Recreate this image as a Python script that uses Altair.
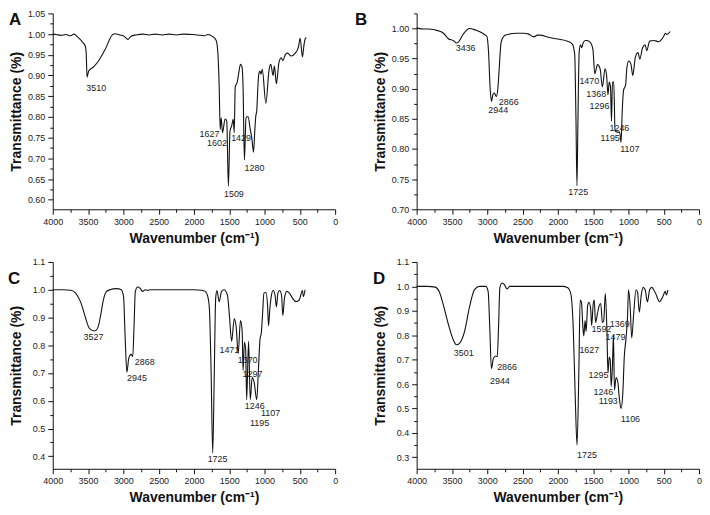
import altair as alt
import pandas as pd

FONT = "Liberation Sans"

# ---------------- Panel A ----------------
A_wn = [4000, 3950, 3884, 3815, 3745, 3699, 3653, 3584, 3537, 3525, 3514, 3491, 3422, 3352, 3300, 3260,
        3200, 3168, 3121, 3051, 2982, 2936, 2890, 2820, 2728, 2635, 2550, 2450, 2350, 2250, 2150, 2035,
        1950, 1850, 1803, 1734, 1688, 1664, 1642, 1628, 1614, 1595, 1559, 1535, 1512, 1489, 1466, 1443,
        1429, 1415, 1387, 1364, 1341, 1317, 1304, 1285, 1262, 1234, 1202, 1179, 1156, 1140, 1125, 1110,
        1095, 1080, 1065, 1050, 1032, 981, 935, 911, 879, 860, 832, 796, 763, 741, 703, 671, 624, 564,
        518, 495, 463, 440, 420, 407]
A_tr = [1.000, 0.999, 0.997, 0.999, 0.996, 1.000, 0.994, 0.982, 0.970, 0.950, 0.896, 0.911, 0.921, 0.935, 0.950, 0.962,
        0.985, 0.996, 1.001, 0.998, 0.994, 0.987, 0.995, 0.998, 1.000, 0.998, 1.000, 0.998, 1.000, 0.998, 1.000, 0.999,
        0.998, 0.996, 0.999, 0.994, 0.986, 0.962, 0.872, 0.770, 0.798, 0.762, 0.795, 0.790, 0.633, 0.766, 0.778, 0.794,
        0.762, 0.872, 0.884, 0.907, 0.927, 0.919, 0.872, 0.696, 0.798, 0.801, 0.770, 0.747, 0.715, 0.760, 0.800, 0.815,
        0.870, 0.905, 0.911, 0.903, 0.915, 0.833, 0.915, 0.927, 0.900, 0.923, 0.880, 0.931, 0.943, 0.936, 0.951, 0.954, 0.947, 0.954,
        0.970, 0.990, 0.945, 0.975, 0.990, 0.991]
A_lbl = ["3510", "1627", "1602", "1429", "1280", "1509"]
A_lbl_wn = [3385, 1780, 1674, 1332, 1142, 1434]
A_lbl_tr = [0.871, 0.758, 0.737, 0.750, 0.676, 0.613]

# ---------------- Panel B ----------------
B_wn = [4000, 3900, 3828, 3689, 3620, 3551, 3481, 3436, 3412, 3343, 3251, 3158, 3065, 3006, 2982, 2960,
        2941, 2920, 2900, 2871, 2850, 2835, 2802, 2742, 2580, 2480, 2419, 2340, 2290, 2257, 2118, 1979,
        1864, 1795, 1761, 1743, 1729, 1715, 1697, 1678, 1660, 1642, 1610, 1587, 1540, 1503, 1476, 1438,
        1401, 1369, 1332, 1309, 1290, 1272, 1254, 1240, 1226, 1208, 1189, 1161, 1124, 1105, 1087, 1068,
        1040, 1022, 995, 963, 939, 902, 865, 838, 800, 763, 741, 699, 638, 569, 500, 477, 454, 408]
B_tr = [1.001, 0.999, 0.999, 0.996, 0.992, 0.983, 0.980, 0.976, 0.977, 0.990, 1.000, 0.997, 0.992, 0.987, 0.962, 0.903,
        0.879, 0.890, 0.893, 0.887, 0.900, 0.925, 0.978, 0.989, 0.992, 0.992, 0.991, 0.986, 0.989, 0.989, 0.985, 0.982,
        0.979, 0.974, 0.957, 0.849, 0.739, 0.849, 0.962, 0.973, 0.968, 0.976, 0.980, 0.980, 0.977, 0.965, 0.925, 0.940,
        0.933, 0.903, 0.933, 0.922, 0.890, 0.911, 0.903, 0.846, 0.911, 0.911, 0.830, 0.828, 0.828, 0.811, 0.865, 0.898,
        0.906, 0.935, 0.946, 0.940, 0.922, 0.952, 0.960, 0.949, 0.968, 0.973, 0.963, 0.979, 0.980, 0.978, 0.987, 0.992, 0.990, 0.995]
B_lbl = ["3436", "2866", "2944", "1725", "1470", "1368", "1296", "1246", "1195", "1107"]
B_lbl_wn = [3306, 2696, 2844, 1711, 1554, 1457, 1411, 1128, 1258, 980]
B_lbl_tr = [0.968, 0.878, 0.864, 0.728, 0.912, 0.891, 0.872, 0.835, 0.818, 0.800]

# ---------------- Panel C ----------------
C_wn = [4000, 3850, 3746, 3676, 3607, 3538, 3490, 3468, 3420, 3399, 3353, 3320, 3283, 3240, 3191, 3098,
        3029, 2997, 2974, 2950, 2923, 2890, 2867, 2849, 2830, 2798, 2765, 2728, 2691, 2659, 2613, 2400,
        2200, 2000, 1896, 1840, 1803, 1781, 1757, 1734, 1711, 1692, 1674, 1642, 1609, 1573, 1526, 1494,
        1466, 1429, 1401, 1373, 1341, 1317, 1304, 1285, 1267, 1253, 1226, 1202, 1175, 1147, 1110, 1087,
        1064, 1045, 1026, 1008, 980, 957, 943, 925, 902, 879, 851, 832, 810, 787, 759, 741, 717, 685,
        648, 602, 555, 509, 463, 449, 426]
C_tr = [1.000, 1.000, 0.998, 0.988, 0.957, 0.901, 0.865, 0.858, 0.852, 0.852, 0.870, 0.910, 0.963, 0.993, 1.000, 1.004,
        1.000, 0.975, 0.827, 0.703, 0.753, 0.767, 0.759, 0.864, 0.994, 1.010, 1.006, 0.994, 1.000, 0.998, 1.000, 1.000,
        1.000, 1.000, 0.998, 0.994, 0.975, 0.932, 0.709, 0.412, 0.709, 0.969, 0.997, 0.957, 0.994, 1.000, 0.981, 0.895,
        0.814, 0.895, 0.864, 0.771, 0.889, 0.852, 0.709, 0.811, 0.784, 0.604, 0.814, 0.604, 0.684, 0.666, 0.604, 0.709,
        0.821, 0.846, 0.920, 0.988, 0.990, 0.944, 0.870, 0.930, 0.980, 0.997, 0.981, 0.938, 0.988, 0.997, 0.981, 0.907, 0.970, 0.994,
        0.988, 0.969, 0.957, 0.963, 0.997, 0.975, 1.000]
C_lbl = ["3527", "2868", "2945", "1725", "1471", "1370", "1297", "1246", "1107", "1195"]
C_lbl_wn = [3422, 2696, 2807, 1665, 1498, 1239, 1170, 1138, 915, 1070]
C_lbl_tr = [0.830, 0.740, 0.681, 0.390, 0.783, 0.746, 0.696, 0.582, 0.557, 0.520]

# ---------------- Panel D ----------------
D_wn = [4000, 3850, 3736, 3681, 3621, 3551, 3482, 3436, 3390, 3320, 3251, 3182, 3112, 3020, 2987, 2964,
        2941, 2913, 2881, 2858, 2840, 2821, 2789, 2756, 2719, 2682, 2500, 2300, 2100, 1933, 1864, 1817,
        1781, 1753, 1728, 1702, 1684, 1665, 1646, 1632, 1614, 1600, 1577, 1559, 1535, 1521, 1498, 1484,
        1466, 1438, 1415, 1392, 1369, 1350, 1327, 1304, 1290, 1272, 1258, 1244, 1226, 1212, 1198, 1175,
        1151, 1129, 1105, 1078, 1059, 1036, 1012, 999, 976, 953, 925, 893, 870, 846, 818, 791, 763, 731,
        699, 671, 616, 560, 513, 477, 463, 440]
D_tr = [1.000, 1.000, 0.997, 0.979, 0.923, 0.845, 0.782, 0.761, 0.768, 0.817, 0.916, 0.986, 1.000, 1.000, 0.979, 0.831,
        0.663, 0.705, 0.715, 0.712, 0.831, 0.995, 1.014, 1.007, 0.989, 1.000, 1.000, 1.000, 1.000, 1.000, 0.995, 0.970,
        0.824, 0.543, 0.350, 0.655, 0.944, 0.935, 0.838, 0.797, 0.860, 0.815, 0.922, 0.935, 0.908, 0.840, 0.930, 0.944,
        0.852, 0.890, 0.920, 0.930, 0.852, 0.860, 0.972, 0.810, 0.645, 0.711, 0.700, 0.590, 0.680, 0.800, 0.575, 0.627,
        0.610, 0.543, 0.500, 0.571, 0.711, 0.782, 0.880, 0.986, 0.922, 0.789, 0.890, 0.986, 0.975, 0.894, 0.965, 0.996, 0.986, 0.937,
        0.986, 0.996, 0.972, 0.937, 0.958, 0.980, 0.965, 0.986]
D_lbl = ["3501", "2866", "2944", "1725", "1627", "1592", "1369", "1479", "1295", "1246", "1193", "1106"]
D_lbl_wn = [3334, 2719, 2821, 1586, 1554, 1383, 1124, 1184, 1424, 1355, 1286, 971]
D_lbl_tr = [0.726, 0.670, 0.613, 0.308, 0.740, 0.824, 0.845, 0.793, 0.637, 0.568, 0.529, 0.455]

X_TICKS = list(range(0, 4001, 250))


def y_ticks(lo, hi, step):
    k0 = int(round(lo / step + 0.4999))
    out = []
    k = k0
    while k * step <= hi + 1e-9:
        out.append(round(k * step, 4))
        k += 1
    return out


def panel(letter, wn, tr, lbl, lwn, ltr, ydom, minor, major_mult, yfmt, w, h, lx, ly):
    df = pd.DataFrame({"wn": wn, "tr": tr})
    ldf = pd.DataFrame({"t": lbl, "wn": lwn, "tr": ltr})
    xscale = alt.Scale(domain=[0, 4000], reverse=True, nice=False, zero=False)
    yscale = alt.Scale(domain=ydom, nice=False, zero=False)
    xaxis = alt.Axis(
        values=X_TICKS, format="d",
        labelExpr="datum.value % 500 === 0 ? datum.label : ''",
        tickSize={"condition": {"test": "datum.value % 500 === 0", "value": 5}, "value": 3},
        labelFlush=False, labelOverlap=False, labelPadding=3, titlePadding=5,
        title="Wavenumber (cm\u207b\u00b9)",
    )
    test = f"abs(datum.value*{major_mult} - round(datum.value*{major_mult})) < 0.001"
    yaxis = alt.Axis(
        values=y_ticks(ydom[0], ydom[1], minor),
        labelExpr=f"{test} ? format(datum.value, '{yfmt}') : ''",
        tickSize={"condition": {"test": test, "value": 5}, "value": 3},
        labelOverlap=False, labelPadding=3, titleX=-29,
        title="Transmittance (%)",
    )
    X = alt.X("wn:Q", scale=xscale, axis=xaxis)
    Y = alt.Y("tr:Q", scale=yscale, axis=yaxis)
    texts = alt.Chart(ldf).mark_text(font=FONT, fontSize=9, color="#222222", align="center",
                                     baseline="middle").encode(x=X, y=Y, text="t:N")
    line = alt.Chart(df).mark_line(color="#111111", strokeWidth=1.1, interpolate="monotone").encode(x=X, y=Y)
    let = alt.Chart(pd.DataFrame({"t": [letter]})).mark_text(
        font=FONT, fontSize=17, fontWeight="bold", color="#111111", align="left", baseline="top"
    ).encode(x=alt.value(lx), y=alt.value(ly), text="t:N")
    return alt.layer(texts, line, let).properties(width=w, height=h)


pA = panel("A", A_wn, A_tr, A_lbl, A_lbl_wn, A_lbl_tr, [0.577, 1.05], 0.025, 20, ".2f", 284, 197, -44, -1)
pB = panel("B", B_wn, B_tr, B_lbl, B_lbl_wn, B_lbl_tr, [0.70, 1.025], 0.025, 20, ".2f", 284, 197, -62, -1)
pC = panel("C", C_wn, C_tr, C_lbl, C_lbl_wn, C_lbl_tr, [0.355, 1.1], 0.05, 10, ".1f", 284, 208, -45, 9)
pD = panel("D", D_wn, D_tr, D_lbl, D_lbl_wn, D_lbl_tr, [0.253, 1.1], 0.05, 10, ".1f", 284, 208, -44, 9)

chart = alt.concat(pA, pB, pC, pD, columns=2, spacing={"row": 53, "column": 82}, bounds="flush").configure_view(
    strokeWidth=0
).configure_axis(
    grid=False, domainColor="#111111", tickColor="#111111", domainWidth=1, tickWidth=1,
    labelColor="#222222", labelFont=FONT, labelFontSize=9,
    titleFont=FONT, titleFontSize=14, titleFontWeight="bold", titleColor="#111111",
).properties(background="white", padding=0)

chart.save("out.html", embed_options={"renderer": "svg", "actions": False})
